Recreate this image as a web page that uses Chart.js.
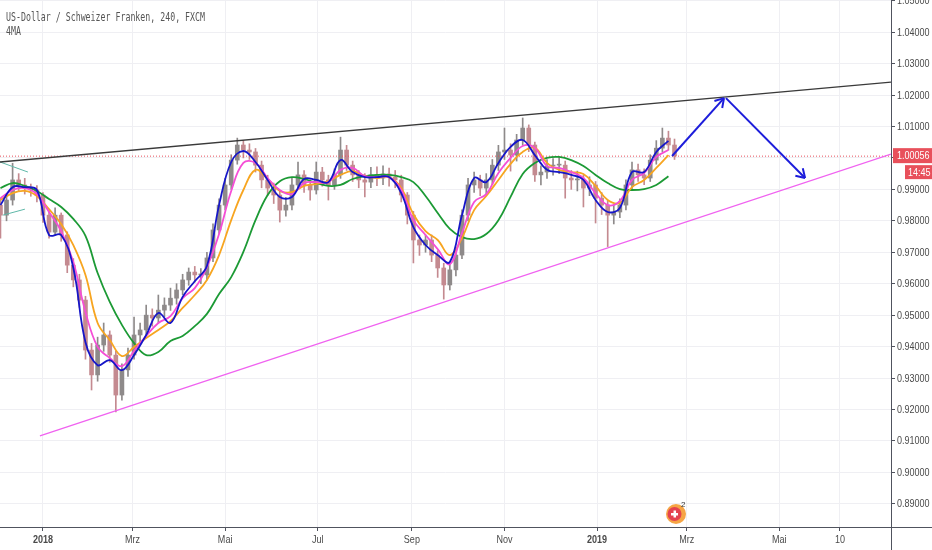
<!DOCTYPE html>
<html>
<head>
<meta charset="utf-8">
<script src="https://cdn.jsdelivr.net/npm/chart.js@4.4.1/dist/chart.umd.min.js"></script>
<style>
	html, body { margin: 0; padding: 0; background: #fff; }
	#wrap { width: 932px; height: 550px; position: relative; }
</style>
</head>
<body>
<div id="wrap"><canvas id="canvas"></canvas></div>
<script>
// x values are days counted from 2018-01-01
const candleStart = -28;
const candleStep = 4;

const candleOpen = [0.9850,0.9818,0.9866,0.9930,0.9914,0.9904,0.9898,0.9882,0.9818,0.9764,
	0.9818,0.9755,0.9659,0.9612,0.9548,0.9389,0.9310,0.9405,0.9437,0.9373,
	0.9246,0.9326,0.9373,0.9437,0.9453,0.9500,0.9491,0.9516,0.9532,0.9554,
	0.9580,0.9612,0.9637,0.9628,0.9628,0.9682,0.9771,0.9850,0.9914,0.9993,
	1.0041,1.0025,1.0019,0.9977,0.9930,0.9904,0.9882,0.9834,0.9850,0.9914,
	0.9946,0.9914,0.9898,0.9955,0.9930,0.9914,0.9946,1.0025,0.9977,0.9946,
	0.9930,0.9923,0.9946,0.9936,0.9949,0.9939,0.9930,0.9882,0.9818,0.9739,
	0.9723,0.9739,0.9691,0.9650,0.9596,0.9644,0.9691,0.9818,0.9914,0.9930,
	0.9904,0.9930,0.9977,1.0019,1.0025,1.0009,1.0057,1.0095,1.0041,0.9946,
	0.9955,0.9974,0.9977,0.9977,0.9936,0.9930,0.9930,0.9904,0.9914,0.9872,
	0.9850,0.9818,0.9828,0.9850,0.9914,0.9962,0.9946,0.9936,0.9993,1.0031,
	1.0063,1.0041];
const candleClose = [0.9818,0.9866,0.9930,0.9914,0.9904,0.9898,0.9882,0.9818,0.9764,0.9818,
	0.9755,0.9659,0.9612,0.9548,0.9389,0.9310,0.9405,0.9437,0.9373,0.9246,
	0.9326,0.9373,0.9437,0.9453,0.9500,0.9491,0.9516,0.9532,0.9554,0.9580,
	0.9612,0.9637,0.9628,0.9628,0.9682,0.9771,0.9850,0.9914,0.9993,1.0041,
	1.0025,1.0019,0.9977,0.9930,0.9904,0.9882,0.9834,0.9850,0.9914,0.9946,
	0.9914,0.9898,0.9955,0.9930,0.9914,0.9946,1.0025,0.9977,0.9946,0.9930,
	0.9923,0.9946,0.9936,0.9949,0.9939,0.9930,0.9882,0.9818,0.9739,0.9723,
	0.9739,0.9691,0.9650,0.9596,0.9644,0.9691,0.9818,0.9914,0.9930,0.9904,
	0.9930,0.9977,1.0019,1.0025,1.0009,1.0057,1.0095,1.0041,0.9946,0.9955,
	0.9974,0.9977,0.9977,0.9936,0.9930,0.9930,0.9904,0.9914,0.9872,0.9850,
	0.9818,0.9828,0.9850,0.9914,0.9962,0.9946,0.9936,0.9993,1.0031,1.0063,
	1.0041,1.0006];
const candleHigh = [0.9872,0.9885,0.9983,0.9950,0.9935,0.9917,0.9912,0.9890,0.9830,0.9841,
	0.9825,0.9765,0.9680,0.9630,0.9560,0.9410,0.9430,0.9475,0.9450,0.9385,
	0.9345,0.9395,0.9494,0.9475,0.9532,0.9520,0.9564,0.9555,0.9586,0.9600,
	0.9630,0.9650,0.9655,0.9648,0.9700,0.9790,0.9870,0.9935,1.0010,1.0063,
	1.0055,1.0045,1.0030,0.9990,0.9945,0.9920,0.9895,0.9875,0.9935,0.9987,
	0.9960,0.9930,0.9987,0.9970,0.9945,0.9965,1.0066,1.0040,0.9990,0.9960,
	0.9950,0.9970,0.9972,0.9975,0.9968,0.9960,0.9945,0.9890,0.9830,0.9755,
	0.9755,0.9755,0.9705,0.9665,0.9665,0.9710,0.9835,0.9935,0.9955,0.9945,
	0.9950,0.9995,1.0040,1.0095,1.0045,1.0075,1.0127,1.0105,1.0050,0.9975,
	0.9995,0.9998,1.0003,0.9990,0.9960,0.9958,0.9945,0.9940,0.9925,0.9890,
	0.9865,0.9850,0.9870,0.9930,0.9987,0.9980,0.9965,1.0010,1.0055,1.0095,
	1.0085,1.0060];
const candleLow = [0.9745,0.9800,0.9850,0.9895,0.9885,0.9878,0.9860,0.9795,0.9745,0.9755,
	0.9735,0.9635,0.9590,0.9525,0.9360,0.9262,0.9290,0.9385,0.9350,0.9192,
	0.9230,0.9305,0.9360,0.9410,0.9435,0.9465,0.9475,0.9495,0.9515,0.9535,
	0.9565,0.9595,0.9605,0.9600,0.9612,0.9670,0.9760,0.9835,0.9900,0.9980,
	1.0000,0.9995,0.9955,0.9905,0.9880,0.9855,0.9796,0.9815,0.9835,0.9900,
	0.9890,0.9866,0.9885,0.9910,0.9866,0.9900,0.9935,0.9960,0.9925,0.9905,
	0.9876,0.9905,0.9912,0.9915,0.9910,0.9905,0.9860,0.9790,0.9666,0.9690,
	0.9700,0.9670,0.9620,0.9551,0.9580,0.9625,0.9680,0.9800,0.9890,0.9880,
	0.9885,0.9915,0.9960,0.9995,0.9958,0.9990,1.0040,1.0020,0.9925,0.9914,
	0.9935,0.9945,0.9950,0.9872,0.9900,0.9895,0.9844,0.9880,0.9793,0.9820,
	0.9718,0.9790,0.9810,0.9835,0.9900,0.9925,0.9915,0.9925,0.9980,1.0020,
	1.0025,0.9995];

// the four moving averages, read every 8 days
const maStart = -28;
const maStep = 8;
const maBlue = [0.9850,0.9907,0.9907,0.9898,0.9755,0.9755,0.9650,0.9414,0.9341,0.9357,
	0.9325,0.9373,0.9437,0.9507,0.9475,0.9558,0.9608,0.9656,0.9850,0.9987,
	1.0022,0.9987,0.9930,0.9876,0.9876,0.9933,0.9930,0.9923,0.9993,0.9955,
	0.9939,0.9939,0.9939,0.9888,0.9780,0.9723,0.9691,0.9669,0.9818,0.9936,
	0.9923,0.9984,1.0035,1.0057,1.0009,0.9962,0.9955,0.9946,0.9930,0.9866,
	0.9828,0.9841,0.9955,0.9955,1.0019,1.0054];
const maPink = [0.9872,0.9898,0.9904,0.9885,0.9828,0.9767,0.9669,0.9510,0.9399,0.9364,
	0.9338,0.9386,0.9434,0.9475,0.9497,0.9554,0.9586,0.9653,0.9758,0.9895,
	0.9984,0.9984,0.9936,0.9898,0.9885,0.9920,0.9923,0.9923,0.9962,0.9968,
	0.9942,0.9939,0.9939,0.9898,0.9802,0.9755,0.9710,0.9662,0.9761,0.9860,
	0.9885,0.9952,1.0000,1.0038,1.0032,0.9974,0.9968,0.9955,0.9936,0.9888,
	0.9850,0.9863,0.9930,0.9952,1.0003,1.0025];
const maOrange = [0.9866,0.9888,0.9895,0.9879,0.9837,0.9790,0.9723,0.9628,0.9475,0.9421,
	0.9370,0.9399,0.9427,0.9453,0.9481,0.9523,0.9564,0.9612,0.9691,0.9802,
	0.9898,0.9962,0.9933,0.9895,0.9891,0.9911,0.9917,0.9926,0.9946,0.9958,
	0.9942,0.9936,0.9939,0.9904,0.9821,0.9767,0.9739,0.9691,0.9745,0.9834,
	0.9879,0.9930,0.9981,1.0019,1.0032,0.9984,0.9962,0.9955,0.9949,0.9911,
	0.9866,0.9857,0.9907,0.9930,0.9968,1.0009];
const maGreen = [0.9904,0.9920,0.9911,0.9895,0.9869,0.9844,0.9806,0.9752,0.9634,0.9542,
	0.9469,0.9411,0.9373,0.9383,0.9418,0.9434,0.9465,0.9504,0.9567,0.9621,
	0.9701,0.9802,0.9882,0.9926,0.9939,0.9933,0.9920,0.9911,0.9914,0.9933,
	0.9942,0.9946,0.9946,0.9939,0.9923,0.9879,0.9825,0.9774,0.9748,0.9742,
	0.9758,0.9802,0.9876,0.9949,0.9984,1.0000,1.0003,0.9993,0.9974,0.9946,
	0.9920,0.9901,0.9898,0.9901,0.9914,0.9942];

// drawn lines: [day, price] end points
const resistanceLine = [[-28.3, 0.9987], [558.6, 1.0241]];
const supportLine = [[-2, 0.9116], [558.6, 1.0012]];
const tealLineA = [[-28.3, 0.9987], [-9.9, 0.9955]];
const tealLineB = [[-26.4, 0.9818], [-11.9, 0.9837]];
const arrowUp = [[414.4, 1.0006], [448.6, 1.0190]];
const arrowDown = [[449.9, 1.0190], [502, 0.9936]];

const lastPrice = 1.00056;
const lastPriceText = '1.00056';
const countdownText = '14:45';
const eventDay = 417;

const xTickDays = [0, 59, 120, 181, 243, 304, 365, 424, 485, 525];
const xTickLabels = ['2018', 'Mrz', 'Mai', 'Jul', 'Sep', 'Nov', '2019', 'Mrz', 'Mai', '10'];
const xBoldLabels = ['2018', '2019'];
const yTickValues = [0.89, 0.90, 0.91, 0.92, 0.93, 0.94, 0.95, 0.96, 0.97, 0.98, 0.99,
	1.00, 1.01, 1.02, 1.03, 1.04, 1.05];

const titleText = 'US-Dollar / Schweizer Franken, 240, FXCM';
const subTitleText = '4MA';

const axisFont = '"Liberation Sans"';
const squeeze = 0.82;   // the screenshot is horizontally condensed

const candleDays = candleClose.map((_, i) => candleStart + i * candleStep);
const maDays = maBlue.map((_, i) => maStart + i * maStep);
const upColor = '#8e8a8a';
const downColor = '#c48a90';
const candleColor = (ctx) => {
	const i = ctx.dataIndex;
	return candleClose[i] >= candleOpen[i] ? upColor : downColor;
};

function maSet(values, color, order) {
	return {
		type: 'line',
		data: maDays.map((d, i) => ({ x: d, y: values[i] })),
		borderColor: color,
		borderWidth: 1.8,
		pointRadius: 0,
		tension: 0.4,
		order: order
	};
}

function segmentSet(points, color, width, order, dash) {
	return {
		type: 'line',
		data: points.map((p) => ({ x: p[0], y: p[1] })),
		borderColor: color,
		borderWidth: width,
		borderDash: dash || [],
		pointRadius: 0,
		tension: 0,
		order: order
	};
}

function squeezedText(ctx, text, x, y, align) {
	const w = ctx.measureText(text).width * squeeze;
	let left = x;
	if (align === 'center') left = x - w / 2;
	ctx.save();
	ctx.translate(left, y);
	ctx.scale(squeeze, 1);
	ctx.fillText(text, 0, 0);
	ctx.restore();
}

const overlay = {
	id: 'overlay',
	afterDraw(chart) {
		const ctx = chart.ctx;
		const xs = chart.scales.x;
		const ys = chart.scales.y;
		const area = chart.chartArea;
		ctx.save();

		// axis lines running through the corner
		ctx.strokeStyle = '#50535e';
		ctx.lineWidth = 1;
		ctx.beginPath();
		ctx.moveTo(0, area.bottom + 0.5);
		ctx.lineTo(chart.width, area.bottom + 0.5);
		ctx.moveTo(area.right + 0.5, 0);
		ctx.lineTo(area.right + 0.5, chart.height);
		ctx.stroke();

		// axis labels at the scale tick positions
		ctx.fillStyle = '#4a4a4a';
		ctx.textBaseline = 'middle';
		ctx.font = '11px ' + axisFont;
		ys.ticks.forEach((t) => {
			squeezedText(ctx, t.value.toFixed(5), area.right + 6, ys.getPixelForValue(t.value) + 0.5, 'left');
		});
		xs.ticks.forEach((t, i) => {
			const bold = xBoldLabels.includes(xTickLabels[i]);
			ctx.font = (bold ? 'bold ' : '') + '11px ' + axisFont;
			squeezedText(ctx, xTickLabels[i], xs.getPixelForValue(t.value), area.bottom + 13, 'center');
		});

		// arrow heads
		ctx.strokeStyle = '#1d1ddb';
		ctx.lineWidth = 2;
		[arrowUp, arrowDown].forEach((a) => {
			const x0 = xs.getPixelForValue(a[0][0]), y0 = ys.getPixelForValue(a[0][1]);
			const x1 = xs.getPixelForValue(a[1][0]), y1 = ys.getPixelForValue(a[1][1]);
			const ang = Math.atan2(y0 - y1, x0 - x1);
			ctx.beginPath();
			[-0.55, 0.55].forEach((d) => {
				ctx.moveTo(x1, y1);
				ctx.lineTo(x1 + 10 * Math.cos(ang + d), y1 + 10 * Math.sin(ang + d));
			});
			ctx.stroke();
		});

		// title
		ctx.fillStyle = '#555';
		ctx.font = '13px "DejaVu Sans Mono"';
		ctx.textBaseline = 'alphabetic';
		const w = ctx.measureText(titleText).width;
		const sx = 199 / w;
		ctx.save();
		ctx.scale(sx, 1);
		ctx.fillText(titleText, 6 / sx, 21);
		ctx.fillText(subTitleText, 6 / sx, 35);
		ctx.restore();

		// last price label on the axis
		const py = ys.getPixelForValue(lastPrice);
		ctx.fillStyle = '#e8505b';
		ctx.fillRect(area.right + 2, py - 8, chart.width - area.right - 2, 15);
		ctx.fillRect(area.right + 14, py + 9, chart.width - area.right - 14, 14);
		ctx.fillStyle = '#fff';
		ctx.font = '11px ' + axisFont;
		ctx.textBaseline = 'middle';
		squeezedText(ctx, lastPriceText, area.right + 6, py, 'left');
		squeezedText(ctx, countdownText, area.right + 17, py + 16.5, 'left');

		// event marker near the time axis
		const ex = xs.getPixelForValue(eventDay);
		const ey = area.bottom - 13;
		ctx.fillStyle = '#f6a545';
		ctx.beginPath();
		ctx.arc(ex, ey, 10, 0, Math.PI * 2);
		ctx.fill();
		ctx.fillStyle = '#e4424f';
		ctx.beginPath();
		ctx.arc(ex - 1.5, ey, 7, 0, Math.PI * 2);
		ctx.fill();
		ctx.fillStyle = '#fff';
		ctx.fillRect(ex - 5, ey - 1, 7, 2.5);
		ctx.fillRect(ex - 2.5, ey - 3.5, 2.5, 7);
		ctx.fillStyle = '#333';
		ctx.font = '8px ' + axisFont;
		ctx.fillText('2', ex + 5, ey - 9);
		ctx.restore();
	}
};

new Chart(document.getElementById('canvas'), {
	type: 'line',
	data: {
		datasets: [
			{
				type: 'bar',
				data: candleDays.map((d, i) => ({ x: d, y: [candleLow[i], candleHigh[i]] })),
				backgroundColor: candleColor,
				barThickness: 1,
				grouped: false,
				order: 20
			},
			{
				type: 'bar',
				data: candleDays.map((d, i) => ({ x: d, y: [candleOpen[i], candleClose[i]] })),
				backgroundColor: candleColor,
				barThickness: 4,
				minBarLength: 1,
				grouped: false,
				order: 19
			},
			maSet(maGreen, '#1c9a35', 8),
			maSet(maOrange, '#f7a520', 7),
			maSet(maPink, '#f54ed6', 6),
			maSet(maBlue, '#1616c8', 5),
			segmentSet([[-28.3, lastPrice], [558.6, lastPrice]], '#e8505b', 1, 9, [1, 2]),
			segmentSet(resistanceLine, '#3a3a3a', 1.3, 3),
			segmentSet(supportLine, '#f062f0', 1.3, 3),
			segmentSet(tealLineA, '#5fb8a8', 1, 3),
			segmentSet(tealLineB, '#5fb8a8', 1, 3),
			segmentSet(arrowUp, '#1d1ddb', 2, 2),
			segmentSet(arrowDown, '#1d1ddb', 2, 2)
		]
	},
	options: {
		responsive: true,
		maintainAspectRatio: false,
		animation: false,
		layout: { padding: 0 },
		plugins: {
			legend: { display: false },
			tooltip: { enabled: false }
		},
		scales: {
			x: {
				type: 'linear',
				min: -28.3,
				max: 558.6,
				offset: false,
				afterBuildTicks: (scale) => { scale.ticks = xTickDays.map((v) => ({ value: v })); },
				afterFit: (scale) => { scale.height = 23; },
				grid: { color: '#efeff3', tickColor: '#50535e', tickLength: 4, offset: false },
				border: { display: false },
				ticks: { display: false, autoSkip: false, maxRotation: 0 }
			},
			y: {
				position: 'right',
				min: 0.88264,
				max: 1.05021,
				afterBuildTicks: (scale) => { scale.ticks = yTickValues.map((v) => ({ value: v })); },
				afterFit: (scale) => { scale.width = 41; },
				grid: { color: '#efeff3', tickColor: '#50535e', tickLength: 4 },
				border: { display: false },
				ticks: { display: false }
			}
		}
	},
	plugins: [overlay]
});
</script>
</body>
</html>
